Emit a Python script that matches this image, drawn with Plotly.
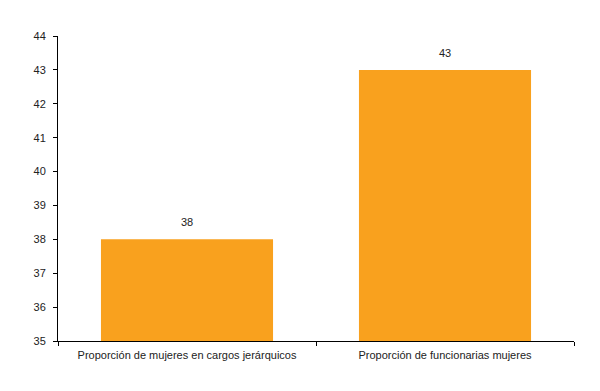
import plotly.graph_objects as go

categories = ["Proporción de mujeres en cargos jerárquicos", "Proporción de funcionarias mujeres"]
values = [38, 43]
y_ticks = [35, 36, 37, 38, 39, 40, 41, 42, 43, 44]

fig = go.Figure()
fig.add_trace(go.Bar(x=categories, y=values, marker=dict(color="#F9A11E", line=dict(width=0)),
                     width=0.667))
for c, v in zip(categories, values):
    fig.add_annotation(x=c, y=v, text=str(v), showarrow=False, yshift=17,
                       font=dict(family="Liberation Sans, Arial", size=11, color="#222"))

fig.update_layout(
    width=600, height=391,
    margin=dict(l=50, r=34, t=28, b=58),
    paper_bgcolor="white", plot_bgcolor="white",
    showlegend=False,
    font=dict(family="Liberation Sans, Arial", size=11, color="#222"),
)
fig.update_xaxes(showline=True, linecolor="black", linewidth=1, ticks="outside",
                 tickson="boundaries", ticklen=4, tickcolor="black", showgrid=False,
                 ticklabelstandoff=4)
fig.update_yaxes(range=[35, 44], tickvals=y_ticks, showline=True, linecolor="black", linewidth=1,
                 ticks="outside", ticklen=4, tickcolor="black", showgrid=False, zeroline=False,
                 ticklabelstandoff=5)
fig.write_html("out.html")
